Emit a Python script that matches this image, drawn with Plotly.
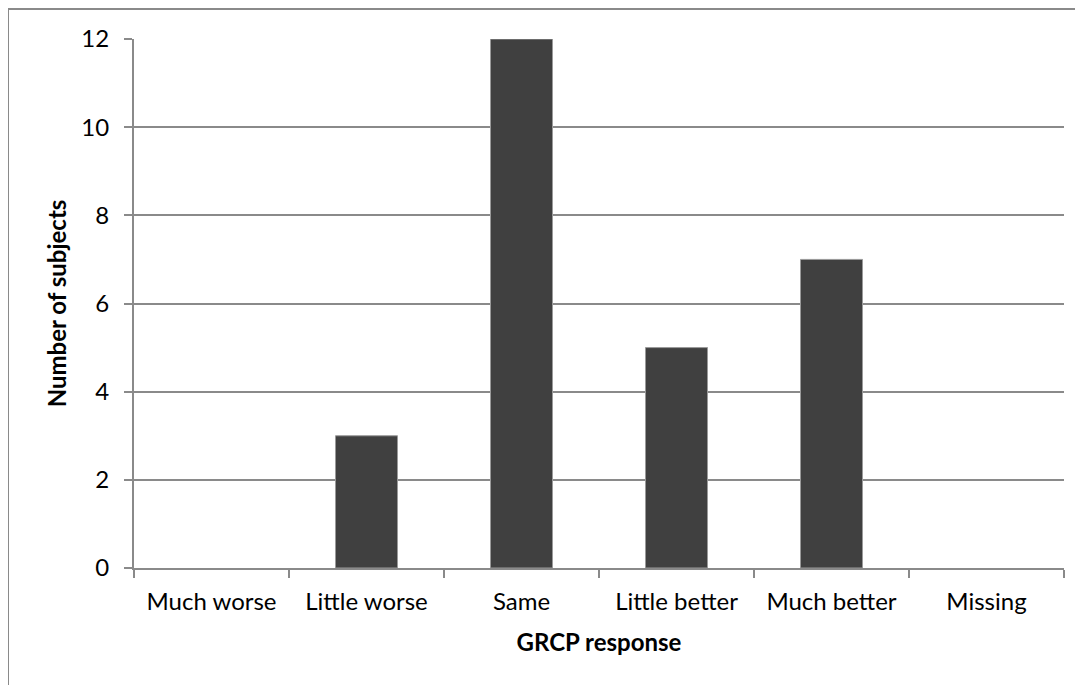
import plotly.graph_objects as go

categories = ["Much worse", "Little worse", "Same", "Little better", "Much better", "Missing"]
counts = [0, 3, 12, 5, 7, 0]
y_ticks = [0, 2, 4, 6, 8, 10, 12]

FONT = "Lato, Open Sans, sans-serif"
GRID = "#8a8a8a"
OFF = 8  # page body margin offset

fig = go.Figure(go.Bar(
    x=categories, y=counts,
    marker=dict(color="#404040",
                line=dict(color="#9a9a9a", width=[0 if c == 0 else 1 for c in counts])),
))

fig.update_layout(
    width=1083, height=685,
    margin=dict(l=134 - OFF, r=1083 - (1064 - OFF), t=39 - OFF, b=685 - (568 - OFF)),
    paper_bgcolor="white", plot_bgcolor="white",
    bargap=0.6,
    showlegend=False,
    font=dict(family=FONT, size=24, color="black"),
)
fig.update_xaxes(
    showline=True, linecolor=GRID, linewidth=2,
    ticks="outside", tickson="boundaries", ticklen=8, tickcolor=GRID, tickwidth=2,
    showgrid=False,
    ticklabelstandoff=11,
    title=dict(text="<b>GRCP response</b>", font=dict(size=24), standoff=20),
)
fig.update_yaxes(
    range=[0, 12], tickvals=y_ticks,
    showline=True, linecolor=GRID, linewidth=2,
    ticks="outside", ticklen=8, tickcolor=GRID, tickwidth=2,
    showgrid=True, gridcolor=GRID, gridwidth=2,
    zeroline=False,
    ticklabelstandoff=10,
    title=dict(text="<b>Number of subjects</b>", font=dict(size=24), standoff=8),
)
# outer chart border (cut off at right and bottom edges in the reference)
fig.add_shape(type="rect", xref="paper", yref="paper",
              x0=(8 - 134) / 930, x1=1.2, y0=-0.5, y1=(568 - 9) / 529,
              line=dict(color=GRID, width=2), fillcolor="rgba(0,0,0,0)", layer="below")

fig.write_html("out.html")
